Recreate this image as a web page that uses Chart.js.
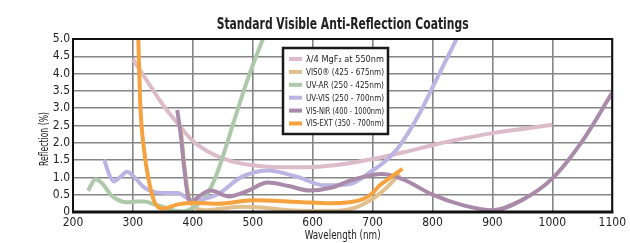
<!DOCTYPE html>
<html>
<head>
<meta charset="utf-8">
<script src="https://cdn.jsdelivr.net/npm/chart.js@4"></script>
<style>
  html, body { margin: 0; padding: 0; background: #fff; }
  #wrap { width: 630px; height: 243px; }
</style>
</head>
<body>
<div id="wrap"><canvas id="chart"></canvas></div>
<script>
"use strict";

// series labels (legend order)
const seriesLabels = [
    "λ/4 MgF₂ at 550nm",
    "VIS0® (425 - 675nm)",
    "UV-AR (250 - 425nm)",
    "UV-VIS (250 - 700nm)",
    "VIS-NIR (400 - 1000nm)",
    "VIS-EXT (350 - 700nm)"
];
const seriesColors = ["#dcbcc8", "#e2c08e", "#adc9aa", "#bcb4e2", "#a98aa9", "#f6a23e"];

// wavelength (nm) / reflection (%)
const mgfNm = [300, 325, 350, 375, 400, 425, 450, 475, 500, 550, 600, 650, 700, 750, 800, 850, 900, 950, 1000];
const mgfR  = [4.42, 3.75, 3.1, 2.55, 2.05, 1.75, 1.55, 1.42, 1.35, 1.29, 1.3, 1.38, 1.53, 1.72, 1.93, 2.12, 2.28, 2.4, 2.52];

const visoNm = [380, 388, 395, 405, 420, 450, 480, 520, 560, 600, 640, 670, 700, 720, 745];
const visoR  = [2.4, 1.0, 0.35, 0.12, 0.05, 0.1, 0.15, 0.12, 0.05, 0.03, 0.03, 0.12, 0.38, 0.65, 1.1];

const uvarNm = [225, 238, 250, 262, 275, 290, 305, 320, 335, 350, 370, 385, 400, 415, 425, 437, 450, 470, 492, 517, 525];
const uvarR  = [0.62, 0.95, 0.8, 0.52, 0.35, 0.28, 0.3, 0.3, 0.22, 0.15, 0.04, 0.02, 0.12, 0.32, 0.55, 0.97, 1.6, 2.7, 3.86, 5.0, 5.35];

const uvvisNm = [252, 260, 268, 278, 290, 303, 318, 335, 355, 375, 392, 400, 412, 443, 480, 525, 575, 620, 660, 700, 720, 740, 760, 780, 800, 820, 840, 850];
const uvvisR  = [1.52, 1.1, 0.88, 1.0, 1.16, 1.0, 0.72, 0.58, 0.55, 0.55, 0.38, 0.33, 0.35, 0.53, 1.0, 1.2, 1.01, 0.77, 0.8, 1.2, 1.45, 1.8, 2.3, 2.9, 3.6, 4.3, 5.0, 5.4];

const visnirNm = [374, 380, 386, 392, 398, 410, 430, 460, 490, 525, 560, 595, 630, 670, 715, 750, 800, 850, 900, 950, 1000, 1050, 1100];
const visnirR  = [2.95, 2.2, 1.2, 0.45, 0.3, 0.45, 0.62, 0.45, 0.6, 0.85, 0.75, 0.62, 0.7, 0.95, 1.1, 0.95, 0.5, 0.2, 0.05, 0.35, 0.97, 2.05, 3.45];

const visextNm = [305, 309, 312, 319, 327, 336, 349, 375, 400, 443, 500, 575, 630, 685, 700, 712, 730, 750];
const visextR  = [6.0, 5.0, 3.2, 1.74, 0.87, 0.29, 0.1, 0.22, 0.27, 0.24, 0.34, 0.29, 0.25, 0.38, 0.55, 0.77, 1.0, 1.25];

const xTicks = [200, 300, 400, 500, 600, 700, 800, 900, 1000, 1100];
const yTicks = [0, 0.5, 1.0, 1.5, 2.0, 2.5, 3.0, 3.5, 4.0, 4.5, 5.0];

const allNm = [mgfNm, visoNm, uvarNm, uvvisNm, visnirNm, visextNm];
const allR = [mgfR, visoR, uvarR, uvvisR, visnirR, visextR];

const FONT = "'Liberation Sans Narrow', 'DejaVu Sans Condensed', sans-serif";

let datasets = [];
for (let i = 0; i < seriesLabels.length; i++) {
    let pts = [];
    for (let j = 0; j < allNm[i].length; j++) {
        pts.push({ x: allNm[i][j], y: allR[i][j] });
    }
    datasets.push({
        label: seriesLabels[i],
        data: pts,
        borderColor: seriesColors[i],
        borderWidth: 4,
        pointRadius: 0,
        fill: false,
        cubicInterpolationMode: "monotone",
        order: seriesLabels.length - i  // last one (VIS-EXT) on top
    });
}

// title, axis titles, frame and legend box
const decorPlugin = {
    id: "decor",
    afterDatasetsDraw: function (chart) {
        const ctx = chart.ctx;
        const a = chart.chartArea;
        ctx.save();
        ctx.strokeStyle = "#111";
        ctx.lineWidth = 2;
        ctx.strokeRect(a.left, a.top, a.right - a.left, a.bottom - a.top);
        ctx.lineWidth = 3;
        ctx.beginPath();
        ctx.moveTo(a.left - 1, a.bottom);
        ctx.lineTo(a.right + 1, a.bottom);
        ctx.stroke();
        ctx.restore();
    },
    afterDraw: function (chart) {
        const ctx = chart.ctx;
        const a = chart.chartArea;
        const cx = (a.left + a.right) / 2;
        ctx.save();

        // title
        ctx.fillStyle = "#222";
        ctx.textAlign = "center";
        ctx.textBaseline = "alphabetic";
        ctx.font = "bold 15px " + FONT;
        ctx.fillText("Standard Visible Anti-Reflection Coatings", cx, 29, 252);

        // x title
        ctx.font = "12px " + FONT;
        ctx.textBaseline = "middle";
        ctx.fillText("Wavelength (nm)", cx, 236, 76);

        // y title
        ctx.save();
        ctx.translate(45, 139);
        ctx.rotate(-Math.PI / 2);
        ctx.font = "13px " + FONT;
        ctx.fillText("Reflection (%)", 0, 0, 54);
        ctx.restore();

        // legend
        const bx = 283, by = 48, bw = 105, bh = 86;
        ctx.fillStyle = "#fff";
        ctx.fillRect(bx, by, bw, bh);
        ctx.strokeStyle = "#1a1a1a";
        ctx.lineWidth = 2.5;
        ctx.strokeRect(bx, by, bw, bh);
        ctx.font = "9.5px " + FONT;
        ctx.textAlign = "left";
        ctx.textBaseline = "middle";
        chart.data.datasets.forEach(function (ds, i) {
            const y = 59 + i * 12.9;
            ctx.strokeStyle = ds.borderColor;
            ctx.lineWidth = 4;
            ctx.beginPath();
            ctx.moveTo(289, y);
            ctx.lineTo(302, y);
            ctx.stroke();
            ctx.fillStyle = "#222";
            ctx.fillText(ds.label, 306, y + 0.5, 78);
        });
        ctx.restore();
    }
};

const ctx = document.getElementById("chart");
new Chart(ctx, {
    type: "line",
    data: { datasets: datasets },
    options: {
        responsive: true,
        maintainAspectRatio: false,
        animation: false,
        layout: { padding: { left: 0, right: 12, top: 39, bottom: 0 } },
        plugins: {
            legend: { display: false },
            title: { display: false },
            tooltip: { enabled: false }
        },
        scales: {
            x: {
                type: "linear",
                min: xTicks[0],
                max: xTicks[xTicks.length - 1],
                afterBuildTicks: function (scale) {
                    scale.ticks = xTicks.map(function (v) { return { value: v }; });
                },
                afterFit: function (scale) { scale.height = 31; },
                grid: { color: "#858585", lineWidth: 1.6, drawTicks: false },
                border: { display: false },
                ticks: {
                    padding: 4,
                    maxRotation: 0,
                    autoSkip: false,
                    color: "#222",
                    font: { family: FONT, size: 12 },
                    callback: function (v) { return String(v); }
                }
            },
            y: {
                min: 0,
                max: 5,
                afterBuildTicks: function (scale) {
                    scale.ticks = yTicks.map(function (v) { return { value: v }; });
                },
                afterFit: function (scale) { scale.width = 73; },
                grid: { color: "#858585", lineWidth: 1.6, drawTicks: false },
                border: { display: false },
                ticks: {
                    padding: 3,
                    autoSkip: false,
                    color: "#222",
                    font: { family: FONT, size: 12 },
                    callback: function (v) { return v === 0 ? "0" : v.toFixed(1); }
                }
            }
        }
    },
    plugins: [decorPlugin]
});
</script>
</body>
</html>
